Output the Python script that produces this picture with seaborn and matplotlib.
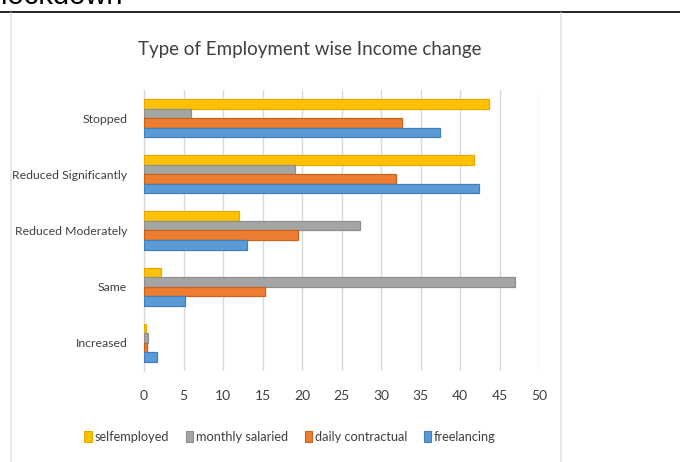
import matplotlib
matplotlib.use("Agg")
import matplotlib.pyplot as plt
import seaborn as sns
import pandas as pd

categories = ["Stopped", "Reduced Significantly", "Reduced Moderately", "Same", "Increased"]
series_names = ["selfemployed", "monthly salaried", "daily contractual", "freelancing"]
selfemployed = [43.7, 41.8, 12.0, 2.2, 0.2]
monthly_salaried = [5.9, 19.1, 27.3, 47.0, 0.55]
daily_contractual = [32.7, 31.9, 19.5, 15.3, 0.4]
freelancing = [37.5, 42.4, 13.1, 5.2, 1.7]
x_ticks = [0, 5, 10, 15, 20, 25, 30, 35, 40, 45, 50]

values = [selfemployed, monthly_salaried, daily_contractual, freelancing]
rows = []
for name, vals in zip(series_names, values):
    for cat, v in zip(categories, vals):
        rows.append({"category": cat, "type": name, "value": v})
df = pd.DataFrame(rows)

fill_colors = ["#FFC000", "#A5A5A5", "#ED7D31", "#5B9BD5"]
edge_colors = ["#E3AB00", "#8E8E8E", "#C9621F", "#3F7FBF"]

sns.set_style("white")
plt.rcParams["font.family"] = ["Lato", "DejaVu Sans"]

fig = plt.figure(figsize=(6.8, 4.62), dpi=100)
ax = fig.add_axes([144 / 680, 1 - 371 / 462, (539 - 144) / 680, (371 - 90) / 462])

sns.barplot(data=df, y="category", x="value", hue="type", order=categories,
            hue_order=series_names, palette=fill_colors, saturation=1, orient="h",
            width=0.68, dodge=True, errorbar=None, ax=ax, zorder=3)

for container, ec in zip(ax.containers, edge_colors):
    for bar in container:
        bar.set_edgecolor(ec)
        bar.set_linewidth(0.9)

ax.set_xlim(0, 50)
ax.set_ylim(4.5, -0.5)
ax.set_xticks(x_ticks)
ax.set_xticklabels([str(t) for t in x_ticks])
ax.grid(axis="x", color="#D9D9D9", linewidth=1, zorder=0)
ax.grid(axis="y", visible=False)
for s in ["top", "right", "bottom"]:
    ax.spines[s].set_visible(False)
ax.spines["left"].set_color("#D9D9D9")
ax.spines["left"].set_linewidth(1)
ax.tick_params(axis="x", length=0, labelsize=10, colors="#404040", pad=14)
ax.tick_params(axis="y", length=0, labelsize=8.8, colors="#404040", pad=12)
ax.set_xlabel("")
ax.set_ylabel("")

ax.legend_.remove()
handles = [plt.Rectangle((0, 0), 1, 1, facecolor=fc, edgecolor=ec, linewidth=0.8)
           for fc, ec in zip(fill_colors, edge_colors)]
fig.legend(handles, series_names, loc="center", bbox_to_anchor=(290 / 680, 1 - 437 / 462),
           ncol=4, frameon=False, fontsize=9.2, handlelength=0.6, handleheight=1.0,
           handletextpad=0.2, columnspacing=1.3, labelcolor="#404040")

fig.text(310 / 680, 1 - 50 / 462, "Type of Employment wise Income change",
         ha="center", va="center", fontsize=13.5, color="#404040")

# chart frame and page rule
fig.add_artist(plt.Line2D([0, 1], [1 - 12 / 462, 1 - 12 / 462], color="black", linewidth=1.2))
fig.add_artist(plt.Line2D([11 / 680, 11 / 680], [0, 1 - 13 / 462], color="#E3E3E3", linewidth=1.2))
fig.add_artist(plt.Line2D([561 / 680, 561 / 680], [0, 1 - 13 / 462], color="#E3E3E3", linewidth=1.2))
fig.text(1 / 680, 1 - 4 / 462, "lockdown", ha="left", va="baseline", fontsize=21,
         family=["Liberation Sans", "DejaVu Sans"], color="black")

fig.savefig("out.png", dpi=100)
